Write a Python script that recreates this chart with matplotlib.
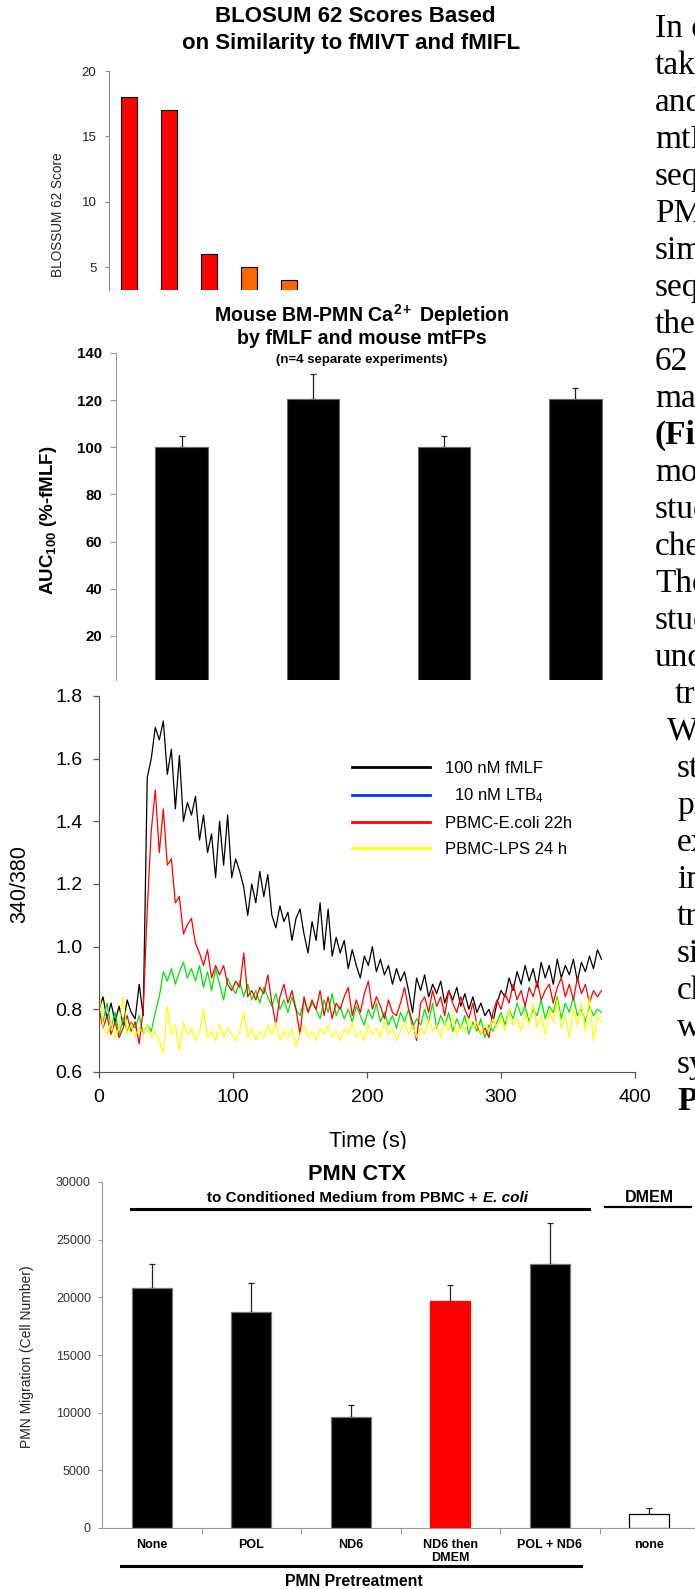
import matplotlib

matplotlib.use("Agg")
import matplotlib.pyplot as plt
import numpy as np
from matplotlib.lines import Line2D
from matplotlib.patches import Rectangle
from matplotlib.transforms import blended_transform_factory

plt.rcParams["font.family"] = ["Liberation Sans", "DejaVu Sans"]
plt.rcParams["mathtext.fontset"] = "custom"
plt.rcParams["mathtext.rm"] = "Liberation Sans"
plt.rcParams["mathtext.it"] = "Liberation Sans:italic"
plt.rcParams["mathtext.bf"] = "Liberation Sans:bold"

W, H = 695, 1589

# --- panel A: BLOSUM 62 scores
blosum_scores = [18, 17, 6, 5, 4]
blosum_colors = ["#ff0000", "#ff0000", "#ff0000", "#ff6600", "#ff6600"]

# --- panel B: mouse BM-PMN Ca2+ depletion (AUC, % of fMLF)
ca_auc = [100, 120.5, 100, 120.5]
ca_err = [4.6, 10.5, 4.6, 4.5]

# --- panel C: 340/380 traces, one sample every 3 s
trace_step_s = 3
trace_fmlf = [
    0.80, 0.84, 0.77, 0.82, 0.76, 0.81, 0.75, 0.83, 0.79, 0.77, 0.88, 0.78,
    1.54, 1.60, 1.70, 1.66, 1.72, 1.55, 1.63, 1.44, 1.61, 1.40, 1.46, 1.42,
    1.48, 1.34, 1.42, 1.30, 1.36, 1.22, 1.40, 1.26, 1.42, 1.22, 1.28, 1.24,
    1.19, 1.10, 1.20, 1.14, 1.24, 1.16, 1.23, 1.10, 1.06, 1.13, 1.08, 1.11,
    1.02, 1.09, 1.12, 1.04, 0.98, 1.08, 1.02, 1.14, 0.99, 1.12, 0.97, 1.03,
    0.98, 1.02, 0.93, 0.99, 0.94, 0.90, 0.97, 0.94, 1.00, 0.92, 0.96, 0.91,
    0.94, 0.88, 0.93, 0.89, 0.92, 0.86, 0.79, 0.90, 0.86, 0.91, 0.84, 0.88,
    0.85, 0.89, 0.82, 0.86, 0.83, 0.87, 0.81, 0.85, 0.80, 0.84, 0.79, 0.82,
    0.78, 0.80, 0.76, 0.82, 0.86, 0.84, 0.90, 0.86, 0.92, 0.88, 0.94, 0.89,
    0.93, 0.87, 0.95, 0.90, 0.94, 0.88, 0.96, 0.90, 0.94, 0.91, 0.96, 0.89,
    0.95, 0.92, 0.97, 0.93, 0.99, 0.96,
]
trace_ecoli = [
    0.80, 0.74, 0.78, 0.72, 0.76, 0.71, 0.74, 0.78, 0.73, 0.76, 0.69, 0.80,
    1.12, 1.37, 1.50, 1.30, 1.44, 1.26, 1.28, 1.14, 1.16, 1.04, 1.07, 1.09,
    1.01, 0.98, 0.94, 0.99, 0.90, 0.94, 0.91, 0.94, 0.88, 0.86, 0.89, 0.87,
    0.98, 0.84, 0.86, 0.83, 0.87, 0.85, 0.91, 0.82, 0.75, 0.84, 0.88, 0.82,
    0.86, 0.80, 0.72, 0.84, 0.79, 0.83, 0.80, 0.86, 0.78, 0.84, 0.77, 0.82,
    0.80, 0.84, 0.87, 0.78, 0.83, 0.79, 0.85, 0.89, 0.80, 0.84, 0.81, 0.77,
    0.83, 0.79, 0.78, 0.82, 0.87, 0.80, 0.76, 0.70, 0.82, 0.84, 0.79, 0.86,
    0.81, 0.84, 0.78, 0.86, 0.82, 0.79, 0.84, 0.80, 0.77, 0.82, 0.75, 0.72,
    0.74, 0.71, 0.79, 0.83, 0.80, 0.85, 0.82, 0.88, 0.83, 0.86, 0.81, 0.87,
    0.84, 0.89, 0.83, 0.86, 0.88, 0.82, 0.87, 0.90, 0.84, 0.88, 0.83, 0.90,
    0.85, 0.88, 0.82, 0.86, 0.84, 0.86,
]
trace_ltb4 = [
    0.80, 0.76, 0.82, 0.74, 0.79, 0.72, 0.77, 0.73, 0.76, 0.74, 0.78, 0.72,
    0.75, 0.73, 0.79, 0.84, 0.92, 0.89, 0.93, 0.88, 0.92, 0.95, 0.90, 0.93,
    0.89, 0.94, 0.87, 0.92, 0.86, 0.93, 0.88, 0.83, 0.90, 0.87, 0.85, 0.89,
    0.84, 0.88, 0.83, 0.86, 0.82, 0.87, 0.84, 0.81, 0.85, 0.80, 0.83, 0.79,
    0.84, 0.80, 0.78, 0.83, 0.79, 0.82, 0.80, 0.77, 0.83, 0.79, 0.85, 0.78,
    0.81, 0.77, 0.80, 0.76, 0.81, 0.78, 0.75, 0.80, 0.77, 0.82, 0.76, 0.79,
    0.75, 0.78, 0.74, 0.79, 0.76, 0.80, 0.74, 0.77, 0.75, 0.80, 0.76, 0.82,
    0.74, 0.78, 0.75, 0.79, 0.73, 0.77, 0.74, 0.78, 0.72, 0.76, 0.73, 0.77,
    0.71, 0.75, 0.73, 0.76, 0.79, 0.75, 0.80, 0.77, 0.82, 0.78, 0.81, 0.76,
    0.80, 0.78, 0.83, 0.77, 0.81, 0.79, 0.84, 0.77, 0.82, 0.79, 0.84, 0.78,
    0.80, 0.76, 0.81, 0.78, 0.80, 0.79,
]
trace_lps = [
    0.88, 0.74, 0.72, 0.76, 0.71, 0.74, 0.84, 0.72, 0.75, 0.71, 0.74, 0.72,
    0.75, 0.71, 0.73, 0.70, 0.66, 0.81, 0.72, 0.75, 0.67, 0.76, 0.72, 0.74,
    0.70, 0.73, 0.80, 0.71, 0.73, 0.70, 0.75, 0.71, 0.74, 0.72, 0.70, 0.73,
    0.79, 0.71, 0.74, 0.70, 0.73, 0.71, 0.75, 0.72, 0.76, 0.70, 0.73, 0.71,
    0.74, 0.68, 0.72, 0.75, 0.71, 0.73, 0.70, 0.74, 0.72, 0.75, 0.71, 0.73,
    0.70, 0.74, 0.72, 0.76, 0.71, 0.73, 0.70, 0.75, 0.72, 0.74, 0.71, 0.76,
    0.72, 0.74, 0.70, 0.73, 0.76, 0.72, 0.75, 0.71, 0.74, 0.72, 0.77, 0.73,
    0.75, 0.71, 0.76, 0.73, 0.78, 0.72, 0.75, 0.73, 0.77, 0.74, 0.76, 0.72,
    0.75, 0.73, 0.77, 0.74, 0.78, 0.73, 0.80, 0.75, 0.77, 0.73, 0.79, 0.75,
    0.82, 0.74, 0.78, 0.72, 0.80, 0.76, 0.83, 0.74, 0.78, 0.71, 0.80, 0.75,
    0.82, 0.73, 0.84, 0.70, 0.78, 0.76,
]
trace_labels = ["100 nM fMLF", "  10 nM LTB$_4$", "PBMC-E.coli 22h", "PBMC-LPS 24 h"]

# --- panel D: PMN chemotaxis
ctx_labels = ["None", "POL", "ND6", "ND6 then\nDMEM", "POL + ND6", "none"]
ctx_counts = [20850, 18730, 9600, 19650, 22860, 1240]
ctx_err = [2000, 2480, 1100, 1420, 3610, 520]
ctx_colors = ["black", "black", "black", "#ff0000", "black", "white"]
ctx_edges = ["#777777", "#777777", "#777777", "#ff0000", "#777777", "black"]

# --- text column cut by the right edge
body_upper = ["In our", "taken", "and", "mtFPs", "seque", "PMN", "simil", "seque",
              "the", "62", "match", "(Fig", "mous", "study", "chem", "The",
              "study", "under"]
body_lower = ["We", "stud", "pro", "exp", "inc", "tra", "sig", "che", "wer", "syn", "PM"]


def box(x0, y0, x1, y1):
    return [x0 / W, 1 - y1 / H, (x1 - x0) / W, (y1 - y0) / H]


fig = plt.figure(figsize=(W / 100, H / 100), dpi=100)


def fig_text(x, y, s, **kw):
    return fig.text(x / W, 1 - y / H, s, **kw)


# ---------------- panel A
ax1 = fig.add_axes(box(109, 71, 629, 290))
ax1.bar(range(len(blosum_scores)), blosum_scores, width=0.4, color=blosum_colors,
        edgecolor="black", linewidth=0.8)
ax1.set_xlim(-0.5, 12.5)
ax1.set_ylim(3.24, 20)
ax1.set_yticks([5, 10, 15, 20])
for side in ("top", "right", "bottom"):
    ax1.spines[side].set_visible(False)
ax1.spines["left"].set_color("#8c8c8c")
ax1.tick_params(axis="y", length=3, width=0.8, color="#8c8c8c", pad=6, labelsize=9.5, labelcolor="#222222")
ax1.tick_params(axis="x", bottom=False, labelbottom=False)
fig_text(355, 17, "BLOSUM 62 Scores Based", ha="center", va="center", fontsize=16, fontweight="bold")
fig_text(351, 44, "on Similarity to fMIVT and fMIFL", ha="center", va="center", fontsize=16, fontweight="bold")
fig_text(58, 215, "BLOSSUM 62 Score", rotation=90, ha="center", va="center", fontsize=9.8, color="#222222")

# ---------------- panel B
ax2 = fig.add_axes(box(116, 353, 641, 680))
xb = np.arange(len(ca_auc))
ax2.errorbar(xb, ca_auc, yerr=[np.zeros(len(ca_err)), ca_err], fmt="none", ecolor="#222222",
             elinewidth=0.9, capsize=2.2, capthick=0.9, zorder=1)
ax2.bar(xb, ca_auc, width=0.4, color="black", edgecolor="#666666", linewidth=0.8, zorder=2)
ax2.set_xlim(-0.5, 3.5)
ax2.set_ylim(1.3, 140)
ax2.set_yticks(range(20, 141, 20))
for side in ("top", "right", "bottom"):
    ax2.spines[side].set_visible(False)
ax2.spines["left"].set_color("#9a9a9a")
ax2.tick_params(axis="y", length=4, width=0.8, color="#9a9a9a", pad=6, labelsize=10.8)
ax2.tick_params(axis="x", bottom=False, labelbottom=False)
for lab in ax2.get_yticklabels():
    lab.set_fontweight("bold")
fig_text(362, 315, r"Mouse BM-PMN Ca$^{\mathbf{2+}}$ Depletion", ha="center", va="center", fontsize=14.1, fontweight="bold")
fig_text(362, 339, "by fMLF and mouse mtFPs", ha="center", va="center", fontsize=14.1, fontweight="bold")
fig_text(362, 360, "(n=4 separate experiments)", ha="center", va="center", fontsize=9.5, fontweight="bold")
fig_text(49, 520, r"AUC$_{\mathbf{100}}$ (%-fMLF)", rotation=90, ha="center", va="center", fontsize=13.5, fontweight="bold")

# ---------------- panel C
ax3 = fig.add_axes(box(99, 696, 635, 1072))
ax3.set_zorder(1)
t = np.arange(len(trace_fmlf)) * trace_step_s
h_fmlf, = ax3.plot(t, trace_fmlf, color="black", linewidth=0.9)
h_ltb4, = ax3.plot(t, trace_ltb4, color="#00e600", linewidth=0.9)
h_ecoli, = ax3.plot(t, trace_ecoli, color="#ff0000", linewidth=0.9)
h_lps, = ax3.plot(t, trace_lps, color="#ffff00", linewidth=0.9)
blue_key = Line2D([], [], color="#0033ff", linewidth=2)
ax3.legend([h_fmlf, blue_key, h_ecoli, Line2D([], [], color="#ffff00", linewidth=2)], trace_labels,
           loc="center left", bbox_to_anchor=(0.472, 0.70), frameon=False, fontsize=12,
           handlelength=4.7, handletextpad=0.9, labelspacing=0.65, borderpad=0, borderaxespad=0)
for lh in ax3.get_legend().get_lines():
    lh.set_linewidth(2)
ax3.set_xlim(0, 400)
ax3.set_ylim(0.6, 1.8)
ax3.set_xticks(range(0, 401, 100))
ax3.set_yticks(np.arange(0.6, 1.81, 0.2))
ax3.yaxis.set_major_formatter(matplotlib.ticker.FormatStrFormatter("%.1f"))
for side in ("top", "right"):
    ax3.spines[side].set_visible(False)
for side in ("left", "bottom"):
    ax3.spines[side].set_color("#555555")
ax3.tick_params(length=4, width=0.9, color="#555555", pad=8, labelsize=14)
fig_text(20, 884, "340/380", rotation=90, ha="center", va="center", fontsize=15.5, zorder=1)
fig_text(368, 1147.5, "Time (s)", ha="center", va="baseline", fontsize=15.5, zorder=1)

# panel D pasted over the lower part of panel C
fig.add_artist(Rectangle((0, 0), 1, 1 - 1149 / H, transform=fig.transFigure,
                         facecolor="white", edgecolor="none", zorder=2))

# ---------------- panel D
ax4 = fig.add_axes(box(102, 1182, 699, 1528))
ax4.set_zorder(3)
xd = np.arange(len(ctx_counts))
ax4.errorbar(xd, ctx_counts, yerr=[np.zeros(len(ctx_err)), ctx_err], fmt="none", ecolor="#222222",
             elinewidth=0.9, capsize=2.2, capthick=0.9, zorder=1)
ax4.bar(xd, ctx_counts, width=0.4, color=ctx_colors, edgecolor=ctx_edges, linewidth=0.9, zorder=2)
ax4.set_xlim(-0.5, 5.5)
ax4.set_ylim(0, 30000)
ax4.set_yticks(range(0, 30001, 5000))
ax4.set_xticks(xd)
ax4.set_xticklabels(ctx_labels, fontsize=9, fontweight="bold", linespacing=1.15)
ax4.set_xticks(np.arange(0.5, 5, 1), minor=True)
for side in ("top", "right"):
    ax4.spines[side].set_visible(False)
for side in ("left", "bottom"):
    ax4.spines[side].set_color("#9a9a9a")
ax4.tick_params(axis="y", length=3, width=0.8, color="#9a9a9a", pad=5, labelsize=9, labelcolor="#333333")
ax4.tick_params(axis="x", which="major", length=0, pad=8)
ax4.tick_params(axis="x", which="minor", length=4, width=0.8, color="#9a9a9a")
ax4.plot([-0.21, 4.39], [27660, 27660], color="black", linewidth=2.2, clip_on=False)
ax4.plot([4.56, 5.42], [27830, 27830], color="black", linewidth=1.6, clip_on=False)
ax4.plot([-0.31, 4.31], [-0.11, -0.11], color="black", linewidth=2.2, clip_on=False,
         transform=blended_transform_factory(ax4.transData, ax4.transAxes))
fig_text(357, 1175, "PMN CTX", ha="center", va="center", fontsize=15.7, fontweight="bold", zorder=4)
fig_text(478, 1198, "to Conditioned Medium from PBMC +", ha="right", va="center", fontsize=11, fontweight="bold", zorder=4)
fig_text(483, 1198, "E. coli", ha="left", va="center", fontsize=11, fontweight="bold", fontstyle="italic", zorder=4)
fig_text(649, 1198, "DMEM", ha="center", va="center", fontsize=11.5, fontweight="bold", zorder=4)
fig_text(27, 1357, "PMN Migration (Cell Number)", rotation=90, ha="center", va="center", fontsize=10, color="#222222", zorder=4)
fig_text(354, 1581, "PMN Pretreatment", ha="center", va="center", fontsize=11.4, fontweight="bold", zorder=4)

# ---------------- body text column
serif = ["Liberation Serif", "DejaVu Serif"]
body_size = 24
for i, word in enumerate(body_upper):
    weight = "bold" if word.startswith("(") else "normal"
    fig_text(655, 37 + 37 * i, word, ha="left", va="baseline", fontsize=body_size, family=serif, fontweight=weight)
fig_text(675, 37 + 37 * len(body_upper), "tran", ha="left", va="baseline", fontsize=body_size, family=serif)
for j, word in enumerate(body_lower):
    i = len(body_upper) + 1 + j
    x = 667 if j == 0 else 677
    weight = "bold" if word == "PM" else "normal"
    fig_text(x, 37 + 37 * i, word, ha="left", va="baseline", fontsize=body_size, family=serif, fontweight=weight)

fig.savefig("out.png", dpi=100)
